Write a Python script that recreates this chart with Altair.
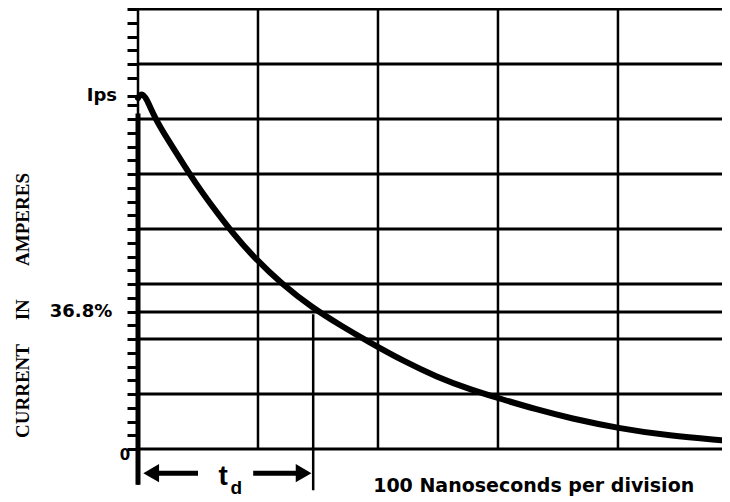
import altair as alt
import pandas as pd

# ---- data (x in nanoseconds, y in grid divisions) ----
curve_t = [0, 3, 7, 14, 25, 39, 50, 64, 78, 97.5, 120, 145, 170, 192, 221, 249, 277, 304, 332, 360, 402, 443, 486]
curve_i = [6.38, 6.48, 6.38, 6.02, 5.62, 5.14, 4.77, 4.35, 3.95, 3.46, 3.0, 2.57, 2.23, 1.95, 1.6, 1.31, 1.08, 0.9, 0.72, 0.56, 0.37, 0.24, 0.16]
h_grid = [0, 1, 2, 3, 4, 5, 6, 7, 8]
level_368 = 2.49
ips_level = 6.42
v_grid = [100, 200, 300, 400]
td_time = 146
y_ticks = [0, 0.25, 0.5, 0.75, 1, 1.25, 1.5, 1.75, 2, 2.25, 2.49, 2.75, 3, 3.25, 3.5, 3.75,
           4, 4.25, 4.5, 4.75, 5, 5.25, 5.5, 5.75, 6, 6.25, 6.42, 6.75, 7, 7.25, 7.5, 7.75, 8]
y_labels = ["Ips", "36.8%", "0"]
y_label_pos = [6.42, 2.49, -0.11]
y_label_x = [-17.5, -21.5, -6.5]

XMAX = 486.7
W, H = 584, 440

xs = alt.Scale(domain=[0, XMAX], nice=False, zero=False)
ys = alt.Scale(domain=[0, 8], nice=False, zero=False)

NB = "\u00a0"
y_axis = alt.Axis(
    values=y_ticks, labels=False, domain=False, grid=False,
    tickSize=11, tickWidth=3, tickColor="black",
    title="CURRENT" + NB * 5 + "IN" + NB * 7 + "AMPERES",
    titleFont="Liberation Serif", titleFontSize=19, titleFontWeight="bold",
    titleColor="black", titleAngle=270, titleX=-116, titleY=296,
    titleAlign="center", titleBaseline="middle",
)


def Y(field):
    return alt.Y(field, scale=ys, axis=y_axis)


def X(field):
    return alt.X(field, scale=xs, axis=None)


# horizontal grid lines
hdf = pd.DataFrame({"y": h_grid + [level_368]})
hdf["x0"] = 0
hdf["x1"] = XMAX
hrules = alt.Chart(hdf).mark_rule(color="black", strokeWidth=3).encode(
    y=Y("y:Q"), x=X("x0:Q"), x2="x1:Q")

vdf = pd.DataFrame({"x": v_grid, "y0": [0] * 4, "y1": [8] * 4})
vrules = alt.Chart(vdf).mark_rule(color="black", strokeWidth=2.5).encode(
    x=X("x:Q"), y=Y("y0:Q"), y2="y1:Q")

ldf = pd.DataFrame({"x": [0, 0, td_time], "y0": [-0.65, -0.65, -0.75], "y1": [8, 6.1, 2.45],
                    "w": [2.5, 5, 2.5]})
lrules = alt.Chart(ldf).mark_rule(color="black").encode(
    x=X("x:Q"), y=Y("y0:Q"), y2="y1:Q",
    strokeWidth=alt.StrokeWidth("w:Q", scale=None, legend=None))

cdf = pd.DataFrame({"t": curve_t, "i": curve_i})
curve = alt.Chart(cdf).mark_line(color="black", strokeWidth=6, interpolate="basis",
                                 strokeCap="round").encode(x=X("t:Q"), y=Y("i:Q"))

# td arrows
shaft_df = pd.DataFrame({"x": [10, 96], "x2": [50, 135], "y": [-0.44, -0.44]})
shafts = alt.Chart(shaft_df).mark_rule(color="black", strokeWidth=5).encode(
    x=X("x:Q"), x2="x2:Q", y=Y("y:Q"))
head_df = pd.DataFrame({"x": [11, 138], "y": [-0.44, -0.44], "s": ["triangle-left", "triangle-right"]})
heads = alt.Chart(head_df).mark_point(filled=True, color="black", size=330, opacity=1).encode(
    x=X("x:Q"), y=Y("y:Q"), shape=alt.Shape("s:N", scale=None, legend=None))

lab_df = pd.DataFrame({"x": y_label_x, "y": y_label_pos, "txt": y_labels, "fs": [18, 18, 15]})
ylabels = alt.Chart(lab_df).mark_text(font="DejaVu Sans", fontWeight="bold",
                                      baseline="middle", align="right", color="black").encode(
    x=X("x:Q"), y=Y("y:Q"), text="txt:N", size=alt.Size("fs:Q", scale=None, legend=None))

t_df = pd.DataFrame({"x": [71], "y": [-0.5], "txt": ["t"]})
t_text = alt.Chart(t_df).mark_text(font="Liberation Sans", fontWeight="bold", fontSize=28,
                                  baseline="middle", align="center", color="black").encode(
    x=X("x:Q"), y=Y("y:Q"), text="txt:N")
d_df = pd.DataFrame({"x": [82], "y": [-0.7], "txt": ["d"]})
d_text = alt.Chart(d_df).mark_text(font="Liberation Sans", fontWeight="bold", fontSize=19,
                                  baseline="middle", align="center", color="black").encode(
    x=X("x:Q"), y=Y("y:Q"), text="txt:N")

cap_df = pd.DataFrame({"x": [196], "y": [-0.67], "txt": ["100 Nanoseconds per division"]})
caption = alt.Chart(cap_df).mark_text(font="DejaVu Sans", fontWeight="bold", fontSize=19,
                                     baseline="middle", align="left", color="black").encode(
    x=X("x:Q"), y=Y("y:Q"), text="txt:N")

chart = alt.layer(
    hrules, vrules, lrules, curve, shafts, heads, ylabels, t_text, d_text, caption
).properties(
    width=W, height=H,
    autosize=alt.AutoSizeParams(type="none"),
    padding={"left": 130, "top": 1, "right": 0, "bottom": 52},
    background="white",
).configure_view(stroke=None)

chart.save("out.html", embed_options={"renderer": "svg", "actions": False})
